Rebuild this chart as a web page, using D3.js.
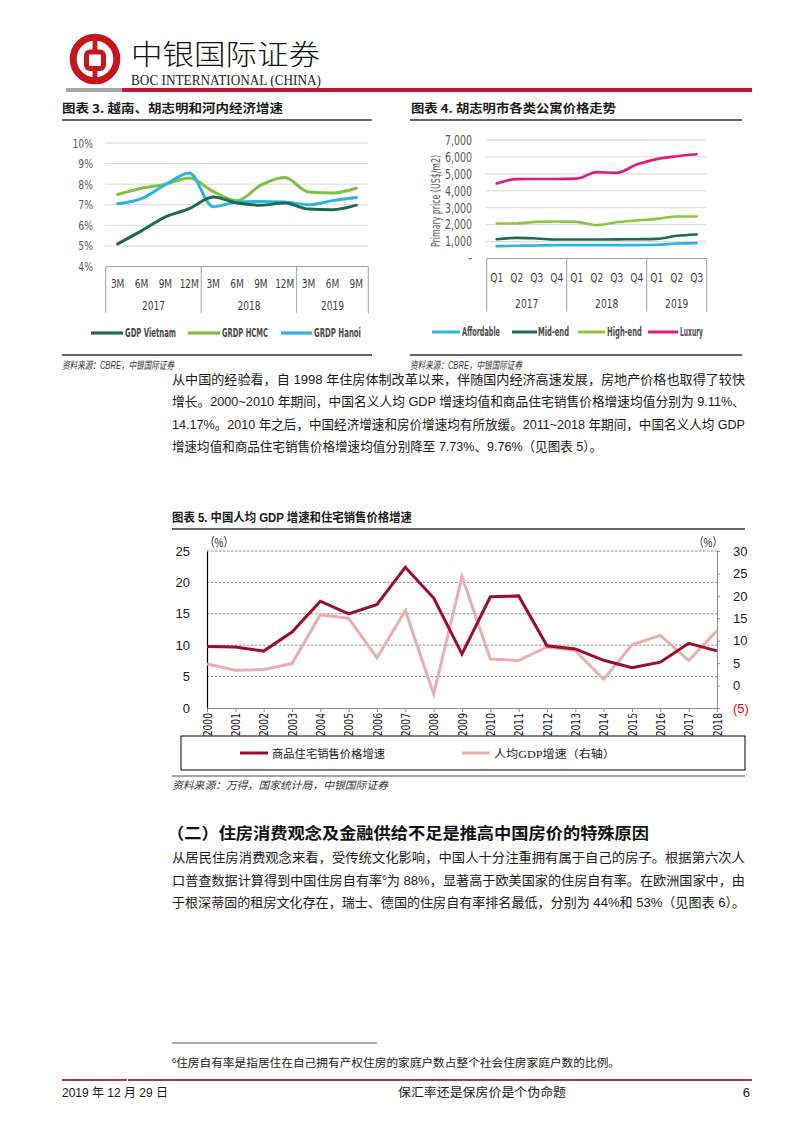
<!DOCTYPE html>
<html><head><meta charset="utf-8">
<script src="https://cdn.jsdelivr.net/npm/d3@7"></script>
<style>
html,body{margin:0;padding:0;background:#fff;}
svg{display:block;}
</style></head><body>
<svg id="page" width="802" height="1132"></svg>
<script>
// ---------- Chart 3 data ----------
const c3Categories = ["3M","6M","9M","12M","3M","6M","9M","12M","3M","6M","9M"];
const c3Years = ["2017","2018","2019"];
const c3YearSpans = [4,4,3];
const c3Ticks = [4,5,6,7,8,9,10];
const gdpVietnam = [5.10,5.73,6.41,6.81,7.38,7.08,6.98,7.08,6.79,6.76,6.98];
const grdpHCMC   = [7.50,7.80,8.00,8.30,7.65,7.20,7.95,8.32,7.62,7.57,7.80];
const grdpHanoi  = [7.05,7.30,7.97,8.54,6.90,7.13,7.16,7.13,7.00,7.20,7.35];
const c3SeriesNames = ["GDP Vietnam","GRDP HCMC","GRDP Hanoi"];

// ---------- Chart 4 data ----------
const c4Categories = ["Q1","Q2","Q3","Q4","Q1","Q2","Q3","Q4","Q1","Q2","Q3"];
const c4Years = ["2017","2018","2019"];
const c4YearSpans = [4,4,3];
const c4Ticks = [0,1000,2000,3000,4000,5000,6000,7000];
const affordable = [730,750,770,790,790,790,790,790,810,890,910];
const midEnd     = [1140,1220,1180,1120,1120,1120,1130,1140,1160,1340,1420];
const highEnd    = [2070,2070,2165,2185,2165,1970,2145,2245,2340,2480,2480];
const luxury     = [4430,4690,4700,4700,4720,5100,5060,5550,5870,6040,6160];
const c4SeriesNames = ["Affordable","Mid-end","High-end","Luxury"];

// ---------- Chart 5 data ----------
const c5Years = ["2000","2001","2002","2003","2004","2005","2006","2007","2008","2009","2010","2011","2012","2013","2014","2015","2016","2017","2018"];
const housePriceGrowth   = [9.8,9.7,9.06,12.1,17.0,15.0,16.5,22.4,17.5,8.6,17.7,17.85,9.9,9.4,7.6,6.4,7.3,10.3,9.1];
const gdpPerCapitaGrowth = [4.8,3.4,3.6,4.9,15.8,15.0,6.2,16.7,-1.9,24.3,5.9,5.6,8.6,7.8,1.4,9.1,11.2,5.6,12.2];
const c5LeftTicks = [0,5,10,15,20,25];
const c5RightTicks = [-5,0,5,10,15,20,25,30];
const c5SeriesNames = ["商品住宅销售价格增速","人均GDP增速（右轴）"];

const CJK = "'Noto Sans CJK SC', 'Noto Sans CJK JP', sans-serif";
const NARROW = "'Liberation Sans Narrow', 'DejaVu Sans Condensed', 'Liberation Sans', " + CJK;
const MIXED = "'Liberation Sans Narrow', 'Liberation Sans', 'Noto Sans CJK SC', sans-serif";

const svg = d3.select("#page");

function txt(g, x, y, s, opt) {
  opt = opt || {};
  const t = g.append("text").attr("x", x).attr("y", y)
    .attr("font-family", opt.family || MIXED)
    .attr("font-size", opt.size || 13)
    .attr("fill", opt.fill || "#1a1a1a")
    .attr("text-anchor", opt.anchor || "start")
    .text(s);
  if (opt.weight) t.attr("font-weight", opt.weight);
  if (opt.italic) t.attr("font-style", "italic");
  if (opt.len) t.attr("textLength", opt.len).attr("lengthAdjust", "spacingAndGlyphs");
  return t;
}
// squeeze glyphs horizontally by a factor (narrow-font look)
function squeeze(sel, f) {
  sel.each(function(){
    const w = this.getComputedTextLength();
    if (w > 0) d3.select(this).attr("textLength", w*f).attr("lengthAdjust","spacingAndGlyphs");
  });
}

// ---------- Header ----------
const hdr = svg.append("g");
hdr.append("circle").attr("cx",95).attr("cy",59).attr("r",21.8).attr("fill","none").attr("stroke","#c4161c").attr("stroke-width",7);
hdr.append("rect").attr("x",86.5).attr("y",52).attr("width",17).attr("height",16.5).attr("rx",3.5).attr("fill","none").attr("stroke","#c4161c").attr("stroke-width",5);
hdr.append("rect").attr("x",92.6).attr("y",38).attr("width",4.8).attr("height",13).attr("fill","#c4161c");
hdr.append("rect").attr("x",92.6).attr("y",68).attr("width",4.8).attr("height",13).attr("fill","#c4161c");
txt(hdr,131,65,"中银国际证券",{family:CJK,size:28.5,len:189,fill:"#111"}).attr("font-weight",300);
txt(hdr,131,84.5,"BOC INTERNATIONAL (CHINA)",{family:"'Liberation Serif', serif",size:14,len:190,fill:"#222"});
hdr.append("rect").attr("x",66).attr("y",88).attr("width",56).attr("height",4).attr("fill","#a6a6a6");
hdr.append("rect").attr("x",122).attr("y",88).attr("width",630).attr("height",4).attr("fill","#be1438");

// ---------- Chart titles & frames (3,4) ----------
txt(svg,62,113,"图表 3. 越南、胡志明和河内经济增速",{family:CJK,size:12,weight:700,len:221});
txt(svg,411,113,"图表 4. 胡志明市各类公寓价格走势",{family:CJK,size:12,weight:700,len:205});
[[62,372],[410,742]].forEach(([a,b])=>{
  svg.append("line").attr("x1",a).attr("x2",b).attr("y1",120).attr("y2",120).attr("stroke","#333").attr("stroke-width",1.3);
  svg.append("line").attr("x1",a).attr("x2",b).attr("y1",355).attr("y2",355).attr("stroke","#333").attr("stroke-width",1.3);
});
txt(svg,62,369,"资料来源：CBRE，中银国际证券",{family:MIXED,size:10.5,italic:true,len:112,fill:"#333"});
txt(svg,410,369,"资料来源：CBRE，中银国际证券",{family:MIXED,size:10.5,italic:true,len:112,fill:"#333"});

// ---------- Chart 3 ----------
(function(){
  const g = svg.append("g");
  const x = d3.scaleBand().domain(d3.range(c3Categories.length)).range([105.7,368.3]);
  const y = d3.scaleLinear().domain([4,10]).range([266.5,143]);
  g.selectAll("line.grid").data(c3Ticks.filter(d=>d>4)).join("line")
    .attr("x1",105).attr("x2",368.3).attr("y1",d=>y(d)).attr("y2",d=>y(d))
    .attr("stroke","#d9d9d9").attr("stroke-width",1);
  g.append("line").attr("x1",105.7).attr("x2",368.3).attr("y1",y(4)).attr("y2",y(4)).attr("stroke","#a0a0a0");
  const ax = g.append("g").attr("transform","translate(105,0)")
    .call(d3.axisLeft(y).tickValues(c3Ticks).tickSize(0).tickPadding(12).tickFormat(d=>d+"%"));
  ax.select(".domain").remove();
  ax.selectAll("text").attr("font-family",NARROW).attr("font-size",12.5).attr("fill","#595959");
  squeeze(ax.selectAll("text"),0.82);
  let idx = 0;
  const bounds = [0];
  c3YearSpans.forEach(s=>{idx+=s;bounds.push(idx);});
  bounds.forEach(b=>{
    const xx = b<c3Categories.length ? x(b) : x.range()[1];
    g.append("line").attr("x1",xx).attr("x2",xx).attr("y1",y(4)).attr("y2",313).attr("stroke","#a0a0a0");
  });
  const labs = [];
  c3Categories.forEach((c,i)=>labs.push(txt(g,x(i)+x.bandwidth()/2,288,c,{family:NARROW,size:12.5,anchor:"middle",fill:"#404040"}).node()));
  c3Years.forEach((yr,i)=>{
    const a = x(bounds[i]), b = bounds[i+1]<c3Categories.length ? x(bounds[i+1]) : x.range()[1];
    labs.push(txt(g,(a+b)/2,310,yr,{family:NARROW,size:12.5,anchor:"middle",fill:"#404040"}).node());
  });
  squeeze(d3.selectAll(labs),0.8);
  const colors = ["#1c6b4f","#7cc242","#2ab4e2"];
  const series = [gdpVietnam,grdpHCMC,grdpHanoi];
  const line = d3.line().x((d,i)=>x(i)+x.bandwidth()/2).y(d=>y(d)).curve(d3.curveMonotoneX);
  [1,2,0].forEach(k=>{
    g.append("path").attr("d",line(series[k])).attr("fill","none").attr("stroke",colors[k]).attr("stroke-width",3).attr("stroke-linecap","round");
  });
  const leg = [[91,123,125,51],[188,220,222,46],[281,312,314,47]];
  leg.forEach((p,k)=>{
    g.append("line").attr("x1",p[0]).attr("x2",p[1]).attr("y1",333).attr("y2",333).attr("stroke",colors[k]).attr("stroke-width",3.2);
    txt(g,p[2],337,c3SeriesNames[k],{family:NARROW,size:11.5,weight:700,fill:"#4a4a4a",len:p[3]});
  });
})();

// ---------- Chart 4 ----------
(function(){
  const g = svg.append("g");
  const x = d3.scaleBand().domain(d3.range(c4Categories.length)).range([486.7,706.7]);
  const y = d3.scaleLinear().domain([0,7000]).range([258.5,140]);
  g.selectAll("line.grid").data(c4Ticks.filter(d=>d>0)).join("line")
    .attr("x1",485).attr("x2",706.7).attr("y1",d=>y(d)).attr("y2",d=>y(d))
    .attr("stroke","#d9d9d9").attr("stroke-width",1);
  g.append("line").attr("x1",486.7).attr("x2",706.7).attr("y1",y(0)).attr("y2",y(0)).attr("stroke","#a0a0a0");
  const ax = g.append("g").attr("transform","translate(486,0)")
    .call(d3.axisLeft(y).tickValues(c4Ticks).tickSize(0).tickPadding(14).tickFormat(d=>d===0?"-":d3.format(",")(d)));
  ax.select(".domain").remove();
  ax.selectAll("text").attr("font-family",NARROW).attr("font-size",13.5).attr("fill","#595959");
  squeeze(ax.selectAll("text"),0.78);
  const yt = txt(g,0,0,"Primary price (US$/m2)",{family:NARROW,size:12,anchor:"middle",fill:"#595959",len:92})
    .attr("transform","translate(440,201) rotate(-90)");
  let idx = 0; const bounds=[0];
  c4YearSpans.forEach(s=>{idx+=s;bounds.push(idx);});
  bounds.forEach(b=>{
    const xx = b<c4Categories.length ? x(b) : x.range()[1];
    g.append("line").attr("x1",xx).attr("x2",xx).attr("y1",y(0)).attr("y2",311.7).attr("stroke","#a0a0a0");
  });
  const labs = [];
  c4Categories.forEach((c,i)=>labs.push(txt(g,x(i)+x.bandwidth()/2,282,c,{family:NARROW,size:13,anchor:"middle",fill:"#404040"}).node()));
  c4Years.forEach((yr,i)=>{
    const a = x(bounds[i]), b = bounds[i+1]<c4Categories.length ? x(bounds[i+1]) : x.range()[1];
    labs.push(txt(g,(a+b)/2,308,yr,{family:NARROW,size:13,anchor:"middle",fill:"#404040"}).node());
  });
  squeeze(d3.selectAll(labs),0.78);
  const colors = ["#2bb5e6","#1b6b4e","#8cc63f","#e5167e"];
  const series = [affordable,midEnd,highEnd,luxury];
  const line = d3.line().x((d,i)=>x(i)+x.bandwidth()/2).y(d=>y(d)).curve(d3.curveMonotoneX);
  series.forEach((s,k)=>{
    g.append("path").attr("d",line(s)).attr("fill","none").attr("stroke",colors[k]).attr("stroke-width",2.6).attr("stroke-linecap","round");
  });
  const leg = [[432,460,462,38],[512,537,538,31],[578,605,607,35],[648,678,680,23]];
  leg.forEach((p,k)=>{
    g.append("line").attr("x1",p[0]).attr("x2",p[1]).attr("y1",332).attr("y2",332).attr("stroke",colors[k]).attr("stroke-width",3);
    txt(g,p[2],336,c4SeriesNames[k],{family:NARROW,size:11.5,weight:700,fill:"#4a4a4a",len:p[3]});
  });
})();

// ---------- Paragraph 1 ----------
const para1 = [
  "从中国的经验看，自 1998 年住房体制改革以来，伴随国内经济高速发展，房地产价格也取得了较快",
  "增长。2000~2010 年期间，中国名义人均 GDP 增速均值和商品住宅销售价格增速均值分别为 9.11%、",
  "14.17%。2010 年之后，中国经济增速和房价增速均有所放缓。2011~2018 年期间，中国名义人均 GDP",
  "增速均值和商品住宅销售价格增速均值分别降至 7.73%、9.76%（见图表 5）。"
];
const para1Len = [573,573,573,430];
para1.forEach((s,i)=>txt(svg,172,384+i*22.3,s,{size:13,len:para1Len[i],fill:"#1a1a1a"}));

// ---------- Chart 5 ----------
txt(svg,172,522,"图表 5. 中国人均 GDP 增速和住宅销售价格增速",{family:MIXED,size:12,weight:700,len:240});
svg.append("line").attr("x1",172).attr("x2",745).attr("y1",529).attr("y2",529).attr("stroke","#333").attr("stroke-width",1.3);
(function(){
  const g = svg.append("g");
  const x = d3.scalePoint().domain(c5Years).range([207,717]);
  const yL = d3.scaleLinear().domain([0,25]).range([708,551]);
  const yR = d3.scaleLinear().domain([-5,30]).range([708,551]);
  g.selectAll("line.grid").data(c5LeftTicks.filter(d=>d>0)).join("line")
    .attr("x1",207).attr("x2",717).attr("y1",d=>yL(d)).attr("y2",d=>yL(d))
    .attr("stroke","#8c8c8c").attr("stroke-width",1).attr("stroke-dasharray","2.5,1.5");
  const axL = g.append("g").attr("transform","translate(207,0)")
    .call(d3.axisLeft(yL).tickValues(c5LeftTicks).tickSize(0).tickPadding(17));
  axL.select(".domain").attr("stroke","#000").attr("stroke-width",1.2);
  axL.selectAll("text").attr("font-family","'Liberation Sans', Arial, sans-serif").attr("font-size",13).attr("fill","#1a1a1a");
  const axR = g.append("g").attr("transform","translate(717,0)")
    .call(d3.axisRight(yR).tickValues(c5RightTicks).tickSize(3).tickPadding(13).tickFormat(d=>d<0?"("+(-d)+")":d));
  axR.select(".domain").attr("stroke","#8c8c8c");
  axR.selectAll(".tick line").attr("stroke","#8c8c8c");
  axR.selectAll("text").attr("font-family","'Liberation Sans', Arial, sans-serif").attr("font-size",13).attr("fill",d=>d<0?"#ff0000":"#1a1a1a");
  const axB = g.append("g").attr("transform","translate(0,708)")
    .call(d3.axisBottom(x).tickSize(4).tickPadding(4));
  axB.select(".domain").attr("stroke","#8c8c8c");
  axB.selectAll(".tick line").attr("stroke","#8c8c8c");
  axB.selectAll("text").attr("font-family",NARROW).attr("font-size",12).attr("fill","#1a1a1a")
    .attr("text-anchor","end").attr("dy","0.35em").attr("transform","rotate(-90)").attr("x",-5).attr("y",0);
  squeeze(axB.selectAll("text"),0.85);
  txt(g,219,547,"（%）",{family:CJK,size:12,anchor:"middle",fill:"#1a1a1a",len:28});
  txt(g,708,547,"（%）",{family:CJK,size:12,anchor:"middle",fill:"#1a1a1a",len:28});
  const lineL = d3.line().x((d,i)=>x(c5Years[i])).y(d=>yL(d));
  const lineR = d3.line().x((d,i)=>x(c5Years[i])).y(d=>yR(d));
  g.append("path").attr("d",lineR(gdpPerCapitaGrowth)).attr("fill","none").attr("stroke","#ebaeae").attr("stroke-width",3);
  g.append("path").attr("d",lineL(housePriceGrowth)).attr("fill","none").attr("stroke","#9e0c2c").attr("stroke-width",3);
  // legend
  g.append("rect").attr("x",181).attr("y",736).attr("width",564).attr("height",34).attr("fill","none").attr("stroke","#000").attr("stroke-width",1);
  g.append("line").attr("x1",240).attr("x2",268).attr("y1",753).attr("y2",753).attr("stroke","#9e0c2c").attr("stroke-width",3);
  txt(g,272,757.5,c5SeriesNames[0],{family:"'Liberation Serif', 'Noto Sans CJK SC', serif",size:11,len:113,fill:"#222"});
  g.append("line").attr("x1",462).attr("x2",490).attr("y1",753).attr("y2",753).attr("stroke","#ebaeae").attr("stroke-width",3);
  txt(g,494,757.5,c5SeriesNames[1],{family:"'Liberation Serif', 'Noto Sans CJK SC', serif",size:11,len:121,fill:"#222"});
})();
svg.append("line").attr("x1",172).attr("x2",745).attr("y1",776).attr("y2",776).attr("stroke","#a6a6a6").attr("stroke-width",2);
txt(svg,172,789,"资料来源：万得，国家统计局，中银国际证券",{family:MIXED,size:10.5,italic:true,len:216,fill:"#333"});

// ---------- Section 2 ----------
txt(svg,167,839,"（二）住房消费观念及金融供给不足是推高中国房价的特殊原因",{family:CJK,size:16,weight:700,len:482,fill:"#111"});
const para2 = [
  "从居民住房消费观念来看，受传统文化影响，中国人十分注重拥有属于自己的房子。根据第六次人",
  "口普查数据计算得到中国住房自有率",
  "于根深蒂固的租房文化存在，瑞士、德国的住房自有率排名最低，分别为 44%和 53%（见图表 6）。"
];
const para2Line2Rest = "为 88%，显著高于欧美国家的住房自有率。在欧洲国家中，由";
txt(svg,172,862,para2[0],{size:13,len:573});
const l2 = txt(svg,172,884.5,para2[1],{size:13,len:573});
l2.append("tspan").attr("font-size",8).attr("dy",-5).text("6");
l2.append("tspan").attr("dy",5).text(para2Line2Rest);
txt(svg,172,907,para2[2],{size:13,len:573});

// ---------- Footnote ----------
svg.append("line").attr("x1",172).attr("x2",377).attr("y1",1043).attr("y2",1043).attr("stroke","#333").attr("stroke-width",0.8);
const fn = txt(svg,172,1067,"",{size:11,fill:"#222",len:448});
fn.append("tspan").attr("font-size",7).attr("dy",-4).text("6");
fn.append("tspan").attr("dy",4).text("住房自有率是指居住在自己拥有产权住房的家庭户数占整个社会住房家庭户数的比例。");

// ---------- Footer ----------
svg.append("rect").attr("x",62).attr("y",1079).attr("width",65).attr("height",2).attr("fill","#a8384f");
svg.append("rect").attr("x",128).attr("y",1079).attr("width",624).attr("height",2).attr("fill","#a8384f");
txt(svg,62,1097,"2019 年 12 月 29 日",{size:12.5,len:106});
txt(svg,482,1097,"保汇率还是保房价是个伪命题",{size:12.5,anchor:"middle",len:168});
txt(svg,750,1097,"6",{size:13,anchor:"end"});
</script>
</body></html>
